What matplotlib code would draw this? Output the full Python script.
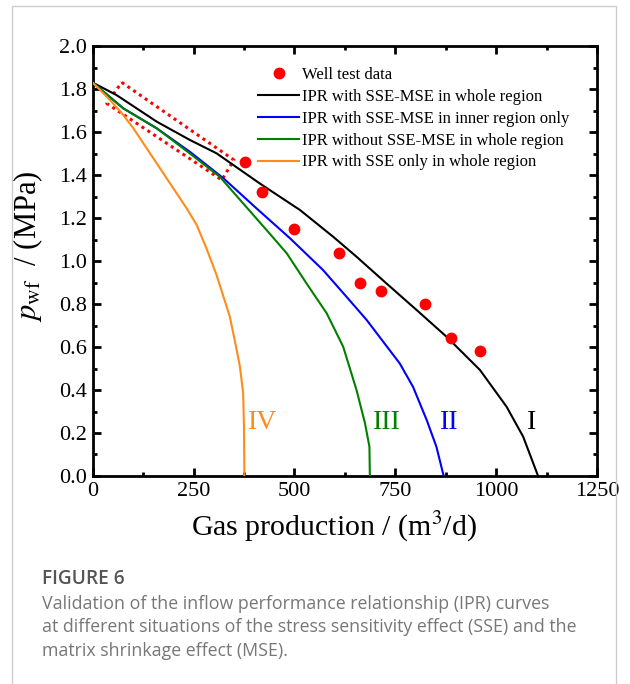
import matplotlib
matplotlib.use("Agg")
import matplotlib.pyplot as plt
from matplotlib.patches import Rectangle
from matplotlib.ticker import MultipleLocator

# ---------------- data ----------------
well_q = [377, 420, 500, 610, 662, 714, 823, 888, 959]
well_p = [1.46, 1.321, 1.15, 1.037, 0.90, 0.862, 0.80, 0.64, 0.581]

c1_q = [0, 59, 159, 241, 307, 414, 514, 596, 654, 728, 803, 877, 960, 1026, 1067, 1104]
c1_p = [1.83, 1.772, 1.648, 1.563, 1.501, 1.361, 1.237, 1.113, 1.02, 0.896, 0.772, 0.648,
        0.493, 0.322, 0.183, 0.0]

c2_q = [0, 76, 159, 241, 324, 406, 489, 571, 629, 679, 724, 761, 794, 828, 852, 870]
c2_p = [1.83, 1.71, 1.617, 1.508, 1.385, 1.245, 1.106, 0.958, 0.834, 0.726, 0.615, 0.524,
        0.415, 0.26, 0.136, 0.0]

c3_q = [0, 76, 159, 241, 315, 373, 431, 481, 530, 580, 621, 654, 675, 686, 687]
c3_p = [1.83, 1.71, 1.617, 1.50, 1.392, 1.268, 1.144, 1.036, 0.896, 0.757, 0.601, 0.40,
        0.245, 0.136, 0.0]

c4_q = [0, 43, 76, 101, 134, 167, 200, 233, 258, 282, 307, 340, 357, 365, 373, 375, 376]
c4_p = [1.83, 1.749, 1.679, 1.617, 1.524, 1.431, 1.338, 1.245, 1.167, 1.059, 0.935, 0.741,
        0.586, 0.508, 0.385, 0.229, 0.0]

box_q = [72, 350, 320, 35, 72]
box_p = [1.831, 1.47, 1.377, 1.733, 1.831]

labels = ["Well test data",
          "IPR with SSE-MSE in whole region",
          "IPR with SSE-MSE in inner region only",
          "IPR without SSE-MSE in whole region",
          "IPR with SSE only in whole region"]
roman = ["I", "II", "III", "IV"]
roman_q = [1088, 883, 728, 422]
roman_p = [0.25, 0.25, 0.25, 0.25]

x_ticks = [0, 250, 500, 750, 1000, 1250]
y_ticks = [0.0, 0.2, 0.4, 0.6, 0.8, 1.0, 1.2, 1.4, 1.6, 1.8, 2.0]

# ---------------- style ----------------
plt.rcParams['font.family'] = ['Liberation Serif', 'DejaVu Serif']
plt.rcParams['mathtext.fontset'] = 'stix'

colors = ['black', '#0000ff', '#008000', '#ff8c1a']

fig = plt.figure(figsize=(6.3, 6.84), dpi=100)
ax = fig.add_axes([0.1471, 0.3041, 0.8005, 0.6286])

lw = 1.5
ax.plot(c1_q, c1_p, color=colors[0], lw=lw, label=labels[1], zorder=3)
ax.plot(c2_q, c2_p, color=colors[1], lw=lw, label=labels[2], zorder=3)
ax.plot(c3_q, c3_p, color=colors[2], lw=lw, label=labels[3], zorder=3)
ax.plot(c4_q, c4_p, color=colors[3], lw=lw, label=labels[4], zorder=3)
ax.plot(well_q, well_p, 'o', color='#ff0000', ms=8.5, mec='none', label=labels[0], zorder=4)
ax.plot(box_q, box_p, color='#ff0000', lw=2.2, linestyle=(0, (1, 1.3)), zorder=2)

for t, q, p, c in zip(roman, roman_q, roman_p, colors):
    ax.text(q, p, t, color=c, fontsize=20, ha='center', va='center')

ax.set_xlim(0, 1250)
ax.set_ylim(0, 2.0)
ax.set_xticks(x_ticks)
ax.set_yticks(y_ticks)
ax.set_yticklabels([f"{v:.1f}" for v in y_ticks])
ax.xaxis.set_minor_locator(MultipleLocator(125))
ax.yaxis.set_minor_locator(MultipleLocator(0.1))
ax.tick_params(which='both', direction='in', top=True, right=True, width=2)
ax.tick_params(which='major', length=6, labelsize=16, pad=4)
ax.tick_params(which='minor', length=3)
for s in ax.spines.values():
    s.set_linewidth(2)

ax.set_xlabel(r'Gas production / (m$^3$/d)', fontsize=21.5)
ax.xaxis.set_label_coords(0.478, -0.078)
ax.set_ylabel(r'$p_{\mathrm{wf}}$  / (MPa)', fontsize=22)
ax.yaxis.set_label_coords(-0.094, 0.535)

h, l = ax.get_legend_handles_labels()
order = [4, 0, 1, 2, 3]
ax.legend([h[i] for i in order], [l[i] for i in order], loc='upper left',
          bbox_to_anchor=(0.328, 0.951), frameon=False, fontsize=12,
          handlelength=2.45, handletextpad=0.2, labelspacing=0.35,
          borderpad=0, borderaxespad=0)

# frame and caption
fig.patches.append(Rectangle((12 / 630, -0.1), (616 - 12) / 630, 1 - 6 / 684 + 0.1,
                             transform=fig.transFigure, fill=False,
                             edgecolor='#cccccc', lw=1))
fig.text(42 / 630, 1 - 579 / 684, "FIGURE 6", family='Open Sans', fontweight='semibold',
         fontsize=13.8, color='#555555', va='center', ha='left')
cap = ["Validation of the inflow performance relationship (IPR) curves",
       "at different situations of the stress sensitivity effect (SSE) and the",
       "matrix shrinkage effect (MSE)."]
for i, line in enumerate(cap):
    fig.text(42 / 630, 1 - (604 + 23.5 * i) / 684, line, family='Open Sans',
             fontsize=12.8, color='#777777', va='center', ha='left')

fig.savefig('out.png', dpi=100)
